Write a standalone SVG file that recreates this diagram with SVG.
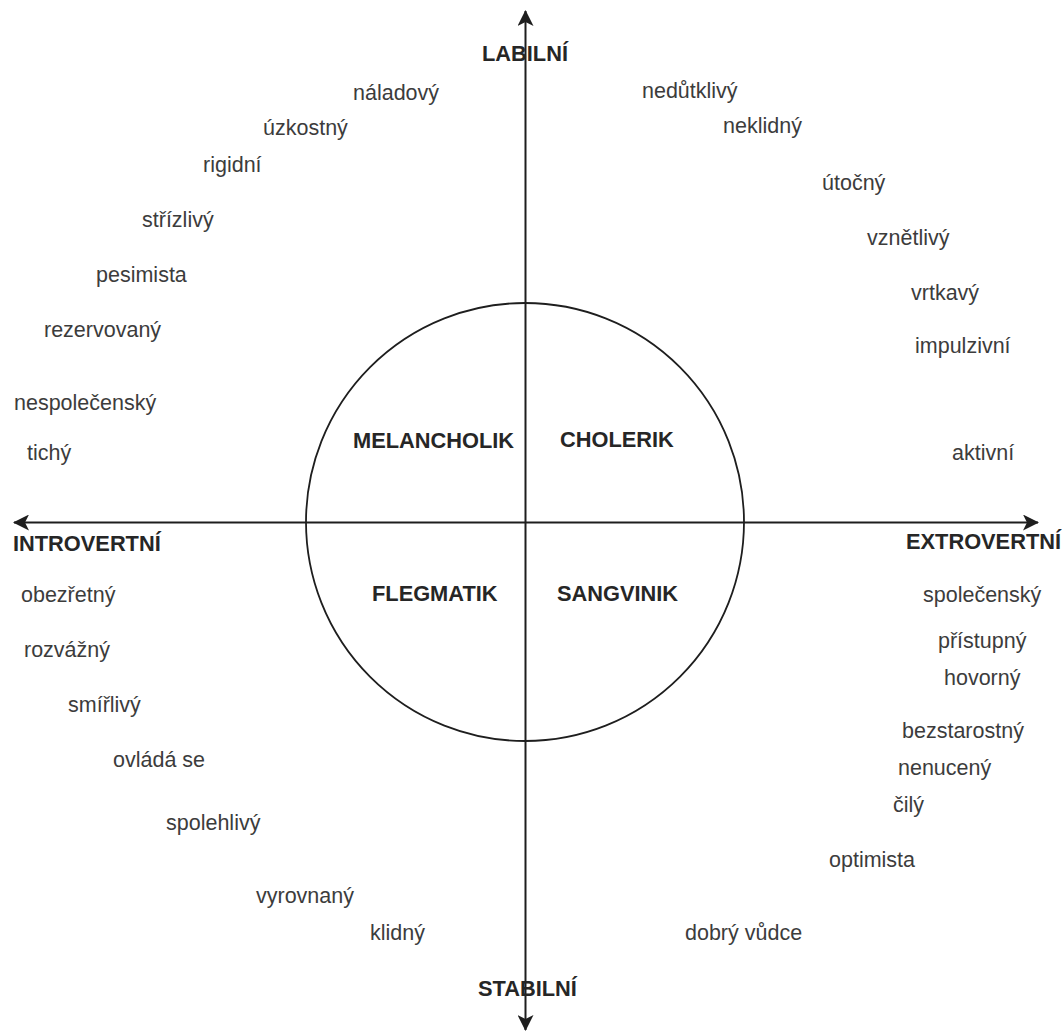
<svg xmlns="http://www.w3.org/2000/svg" width="1062" height="1032" viewBox="0 0 1062 1032">
<style>
.t{font-family:"Liberation Sans",Arial,Helvetica,sans-serif;font-size:21.5px;fill:#3c3c3c}
.b{font-family:"Liberation Sans",Arial,Helvetica,sans-serif;font-size:21.8px;font-weight:bold;fill:#262626}
.ax{stroke:#1e1e1e;stroke-width:2;fill:none}
</style>
<defs>
<marker id="arr" viewBox="0 0 16 16" refX="15" refY="8" markerWidth="16" markerHeight="16" markerUnits="userSpaceOnUse" orient="auto-start-reverse">
<path d="M0,0 L16,8 L0,16 L4,8 Z" fill="#1e1e1e"/>
</marker>
</defs>
<rect width="1062" height="1032" fill="#ffffff"/>
<g id="circle">
<circle cx="525" cy="522" r="219" fill="none" stroke="#1e1e1e" stroke-width="1.8"/>
</g>
<g id="connectors">
<line class="ax" x1="525.5" y1="1030" x2="525.5" y2="11" marker-start="url(#arr)" marker-end="url(#arr)"/>
<line class="ax" x1="14" y1="522.5" x2="1038" y2="522.5" marker-start="url(#arr)" marker-end="url(#arr)"/>
</g>
<g id="axis-labels">
<text id="labilni" class="b" x="482" y="61">LABILNÍ</text>
<text id="stabilni" class="b" x="478" y="996">STABILNÍ</text>
<text id="introvertni" class="b" x="13" y="551">INTROVERTNÍ</text>
<text id="extrovertni" class="b" x="906" y="549">EXTROVERTNÍ</text>
</g>
<g id="types">
<text id="melancholik" class="b" x="353" y="448">MELANCHOLIK</text>
<text id="cholerik" class="b" x="560" y="447">CHOLERIK</text>
<text id="flegmatik" class="b" x="372" y="601">FLEGMATIK</text>
<text id="sangvinik" class="b" x="557" y="601">SANGVINIK</text>
</g>
<g id="traits-melancholik">
<text class="t" x="353" y="100">náladový</text>
<text class="t" x="263" y="135">úzkostný</text>
<text class="t" x="203" y="172">rigidní</text>
<text class="t" x="142" y="227">střízlivý</text>
<text class="t" x="96" y="282">pesimista</text>
<text class="t" x="44" y="337">rezervovaný</text>
<text class="t" x="14" y="410">nespolečenský</text>
<text class="t" x="27" y="460">tichý</text>
</g>
<g id="traits-cholerik">
<text class="t" x="642" y="98">nedůtklivý</text>
<text class="t" x="723" y="133">neklidný</text>
<text class="t" x="822" y="190">útočný</text>
<text class="t" x="867" y="245">vznětlivý</text>
<text class="t" x="911" y="300">vrtkavý</text>
<text class="t" x="915" y="353">impulzivní</text>
<text class="t" x="952" y="460">aktivní</text>
</g>
<g id="traits-flegmatik">
<text class="t" x="21" y="602">obezřetný</text>
<text class="t" x="24" y="657">rozvážný</text>
<text class="t" x="68" y="712">smířlivý</text>
<text class="t" x="113" y="767">ovládá se</text>
<text class="t" x="166" y="830">spolehlivý</text>
<text class="t" x="256" y="903">vyrovnaný</text>
<text class="t" x="370" y="940">klidný</text>
</g>
<g id="traits-sangvinik">
<text class="t" x="923" y="602">společenský</text>
<text class="t" x="938" y="648">přístupný</text>
<text class="t" x="944" y="685">hovorný</text>
<text class="t" x="902" y="738">bezstarostný</text>
<text class="t" x="898" y="775">nenucený</text>
<text class="t" x="893" y="812">čilý</text>
<text class="t" x="829" y="867">optimista</text>
<text class="t" x="685" y="940">dobrý vůdce</text>
</g>
</svg>
